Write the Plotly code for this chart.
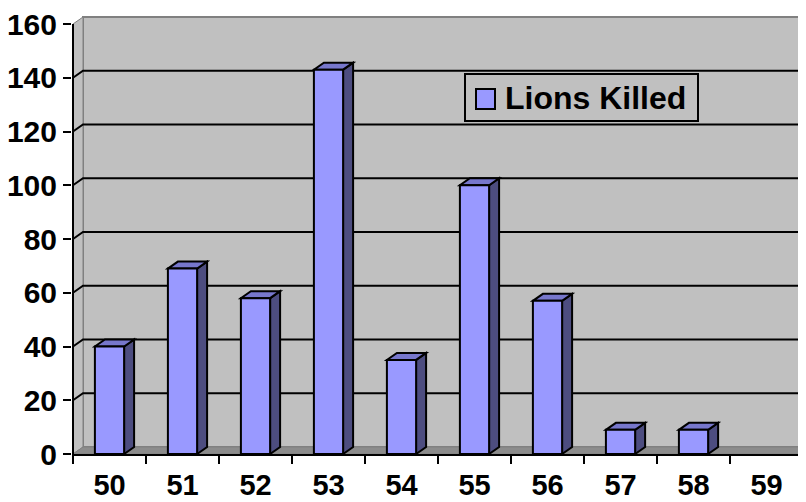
import plotly.graph_objects as go

# data
categories = ["50", "51", "52", "53", "54", "55", "56", "57", "58", "59"]
lions_killed = [40, 69, 58, 143, 35, 100, 57, 9, 9, 0]
y_ticks = [0, 20, 40, 60, 80, 100, 120, 140, 160]
series_name = "Lions Killed"

FRONT = "#9999FF"
TOP = "#7777CC"
SIDE = "#4D4D80"
WALL = "#C0C0C0"
EDGE = "#808080"
FLOOR = "#8C8C8C"
FONT = "Liberation Sans"

# fake-3d depth, in axis units
BAR_W = 0.4
DX = 10 / 73
DY = 7 / 2.6875
X0 = -0.5
X_END = 9.541
Y_MAX = y_ticks[-1]
Y_TOP = 163.35

# the page body has an 8px margin, so the figure is shifted by 8px
W, H = 798, 494
PL, PR, PT, PB = 64, 798, 7, 446

shapes = []


def poly(pts, fill, line_color="black", width=2, layer="below"):
    path = "M " + " L ".join(f"{x},{y}" for x, y in pts) + " Z"
    shapes.append(dict(type="path", path=path, xref="x", yref="y",
                       fillcolor=fill, line=dict(color=line_color, width=width),
                       layer=layer))


def seg(pts, color="black", width=2):
    path = "M " + " L ".join(f"{x},{y}" for x, y in pts)
    shapes.append(dict(type="path", path=path, xref="x", yref="y",
                       line=dict(color=color, width=width), layer="below"))


# walls and floor
poly([(X0 + DX, DY), (X_END + 1, DY), (X_END + 1, Y_MAX + DY), (X0 + DX, Y_MAX + DY)], WALL, EDGE, 2)
poly([(X0, 0), (X0, Y_MAX), (X0 + DX, Y_MAX + DY), (X0 + DX, DY)], WALL, EDGE, 1)
poly([(X0, 0), (X_END + 1, 0), (X_END + 1, DY), (X0 + DX, DY)], FLOOR, EDGE, 1)

# gridlines on the back wall
for v in y_ticks[1:-1]:
    seg([(X0, v), (X0 + DX, v + DY), (X_END + 1, v + DY)])

# front axis line
seg([(X0, 0), (X0, Y_MAX)], "black", 2)

# bar tops and sides
for i, v in enumerate(lions_killed):
    if v <= 0:
        continue
    l, r = i - BAR_W / 2, i + BAR_W / 2
    poly([(r, 0), (r, v), (r + DX, v + DY), (r + DX, DY)], SIDE, "black", 2)
    poly([(l, v), (r, v), (r + DX, v + DY), (l + DX, v + DY)], TOP, "black", 2)


# legend drawn by hand so the box and swatch sizes match (screen pixels)
def px(x):
    return (x - 8 - PL) / (PR - PL)


def py(y):
    return (PB - (y - 8)) / (PB - PT)


shapes.append(dict(type="rect", xref="paper", yref="paper", x0=px(465), x1=px(698),
                   y0=py(121), y1=py(74), line=dict(color="black", width=2), layer="above"))
shapes.append(dict(type="rect", xref="paper", yref="paper", x0=px(476), x1=px(495),
                   y0=py(109), y1=py(89), fillcolor=FRONT, line=dict(color="black", width=2),
                   layer="above"))

fig = go.Figure(go.Bar(
    x=categories, y=lions_killed, name=series_name, width=BAR_W,
    marker=dict(color=FRONT,
                line=dict(color="black", width=[2 if v > 0 else 0 for v in lions_killed])),
))

fig.update_layout(
    width=W, height=H,
    margin=dict(l=PL, r=W - PR, t=PT, b=H - PB, pad=0),
    paper_bgcolor="white", plot_bgcolor="white",
    showlegend=False,
    shapes=shapes,
    font=dict(family=FONT, color="black"),
    annotations=[dict(text=series_name, xref="paper", yref="paper", x=px(503), y=py(98),
                      xanchor="left", yanchor="middle", showarrow=False,
                      font=dict(family=FONT, size=32, weight="bold", color="black"))],
    xaxis=dict(type="category", range=[X0 - 1 / 73, X_END], tickson="boundaries",
               ticks="outside", ticklen=8, tickwidth=2, tickcolor="black",
               showline=True, linecolor="black", linewidth=2, showgrid=False,
               zeroline=False, automargin=False, ticklabelstandoff=4,
               ticklabeloverflow="allow",
               tickfont=dict(family=FONT, size=29, weight="bold")),
    yaxis=dict(range=[0, Y_TOP], tickvals=y_ticks, ticks="outside", ticklen=8,
               tickwidth=2, tickcolor="black", showline=False, showgrid=False,
               zeroline=False, automargin=False, ticklabeloverflow="allow",
               tickfont=dict(family=FONT, size=30, weight="bold")),
)

fig.write_html("out.html")
